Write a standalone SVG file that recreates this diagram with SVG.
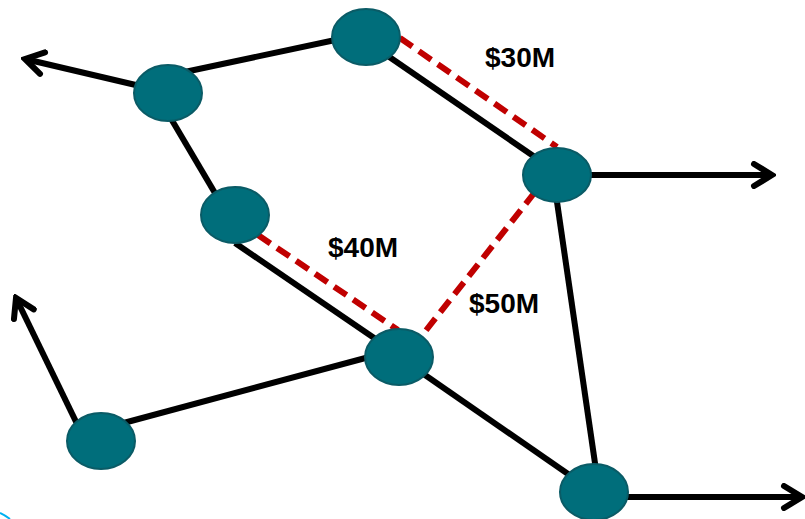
<svg xmlns="http://www.w3.org/2000/svg" width="805" height="519" viewBox="0 0 805 519">
<style>
.e{stroke:#000;stroke-width:6;fill:none;stroke-linecap:butt}
.a{marker-end:url(#arr)}
.d{stroke:#c00000;stroke-width:6;fill:none;stroke-dasharray:15 8}
.n{fill:#006e7b;stroke:#0a5b66;stroke-width:2}
.t{font-family:"Liberation Sans",Arial,sans-serif;font-weight:bold;font-size:28px;fill:#000}
</style>
<defs>
<marker id="arr" markerUnits="userSpaceOnUse" viewBox="-24 -14 28 28" markerWidth="28" markerHeight="28" refX="0" refY="0" orient="auto">
<path d="M-18,-11 L0,0 L-18,11" fill="none" stroke="#000" stroke-width="6" stroke-linecap="round" stroke-linejoin="miter"/>
</marker>
</defs>
<rect width="805" height="519" fill="#fff"/>
<path d="M0,513 Q6,516 10,519" stroke="#00b0f0" stroke-width="2" fill="none"/>
<g id="connectors">
<line class="e" x1="180" y1="73" x2="340" y2="39"/>
<line class="e a" x1="140" y1="86" x2="25" y2="59"/>
<line class="e" x1="160" y1="100" x2="225" y2="210"/>
<line class="e" x1="235" y1="243" x2="399" y2="355"/>
<line class="e" x1="385" y1="54" x2="545" y2="164"/>
<line class="e a" x1="585" y1="175" x2="772" y2="175"/>
<line class="e" x1="556" y1="195" x2="596" y2="470"/>
<line class="e" x1="105" y1="428" x2="399" y2="349"/>
<line class="e a" x1="80" y1="430" x2="16" y2="298"/>
<line class="e" x1="399" y1="357" x2="594" y2="492"/>
<line class="e a" x1="620" y1="497" x2="802" y2="497"/>
<line class="d" x1="400" y1="38" x2="557" y2="147"/>
<line class="d" x1="258" y1="235" x2="398" y2="330"/>
<line class="d" x1="535" y1="192" x2="420" y2="338"/>
</g>
<g id="n1"><ellipse class="n" cx="366" cy="37" rx="34" ry="28"/></g>
<g id="n2"><ellipse class="n" cx="168" cy="93" rx="34" ry="28"/></g>
<g id="n3"><ellipse class="n" cx="235" cy="215" rx="34" ry="28"/></g>
<g id="n4"><ellipse class="n" cx="557" cy="175" rx="34" ry="27"/></g>
<g id="n5"><ellipse class="n" cx="399" cy="357" rx="34" ry="28"/></g>
<g id="n6"><ellipse class="n" cx="101" cy="441" rx="34" ry="28"/></g>
<g id="n7"><ellipse class="n" cx="594" cy="492" rx="34" ry="28"/></g>
<text class="t" x="485" y="67">$30M</text>
<text class="t" x="328" y="257">$40M</text>
<text class="t" x="469" y="313">$50M</text>
</svg>
